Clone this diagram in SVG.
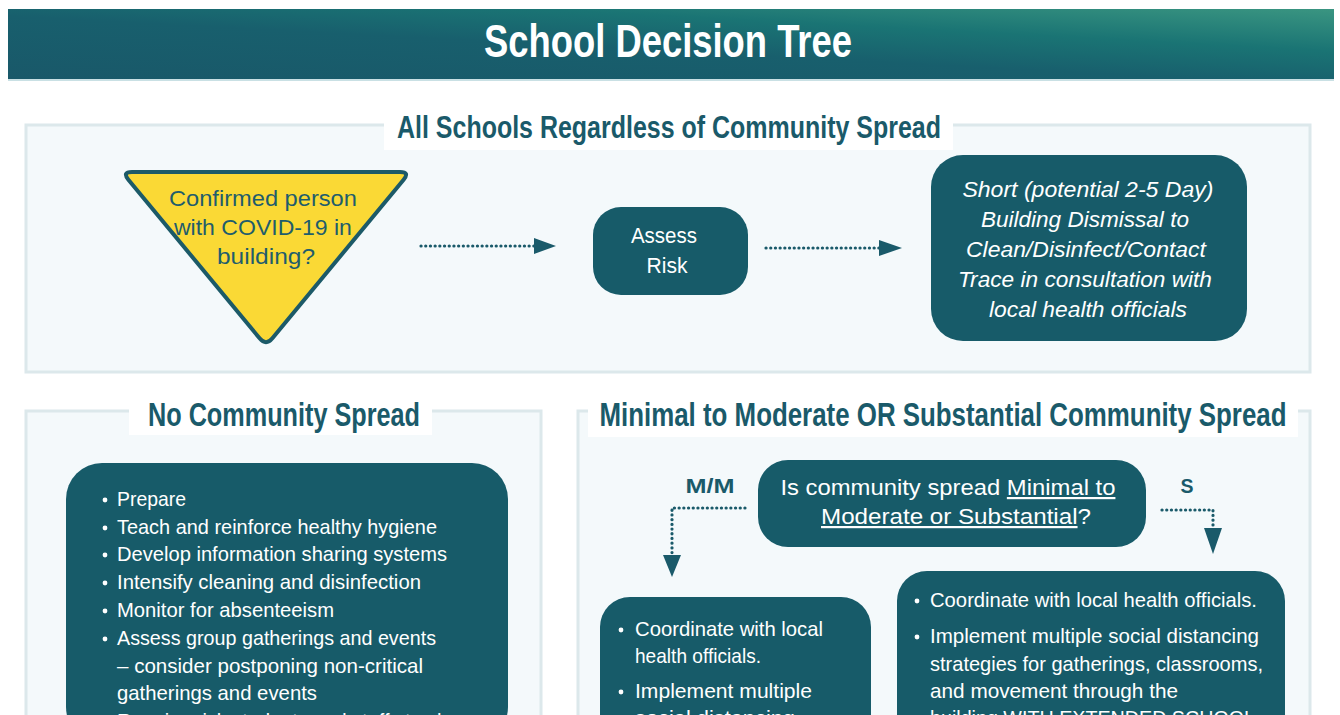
<svg xmlns="http://www.w3.org/2000/svg" width="1340" height="715" viewBox="0 0 1340 715">
  <defs>
    <linearGradient id="hdr" x1="0" y1="1" x2="1" y2="0">
      <stop offset="0" stop-color="#195869"/>
      <stop offset="0.45" stop-color="#185f6d"/>
      <stop offset="0.7" stop-color="#1a7474"/>
      <stop offset="1" stop-color="#3a9581"/>
    </linearGradient>
    <style>
      .panel { fill: #f4f9fb; stroke: #dce8eb; stroke-width: 3; }
      .tag { fill: #ffffff; }
      .ttl { font-family: "Liberation Sans Narrow", "Liberation Sans", Arial, sans-serif; font-weight: bold; fill: #1a5a6a; text-anchor: middle; }
      .box { fill: #175b69; }
      .txt { font-family: "Liberation Sans", Arial, sans-serif; font-size: 21px; fill: #ffffff; }
      .mid { text-anchor: middle; }
      .dark { fill: #1f5d6c; }
      .it { font-style: italic; }
      .dot { fill: none; stroke: #1a5a6a; stroke-width: 3.2; stroke-linecap: round; stroke-dasharray: 0.1 4.6; }
      .head { fill: #1a5a6a; }
      .bul { fill: #ffffff; }
      .u { text-decoration: underline; }
    </style>
  </defs>

  <rect x="0" y="0" width="1340" height="715" fill="#ffffff"/>

  <!-- header band -->
  <g id="header">
    <rect x="8" y="9" width="1326" height="70" fill="url(#hdr)"/>
    <rect x="8" y="79" width="1326" height="2" fill="#c9e0e4"/>
    <text x="668" y="57" class="ttl" style="fill:#ffffff;font-size:46px" textLength="368" lengthAdjust="spacingAndGlyphs">School Decision Tree</text>
  </g>

  <!-- section frames -->
  <g id="section-all">
    <rect x="26" y="125" width="1284" height="247" class="panel"/>
    <rect x="384" y="106" width="569" height="44" class="tag"/>
    <text x="669" y="138" class="ttl" style="font-size:32px" textLength="544" lengthAdjust="spacingAndGlyphs">All Schools Regardless of Community Spread</text>
  </g>
  <g id="section-none">
    <rect x="26" y="411" width="515" height="320" class="panel"/>
    <rect x="129" y="393" width="303" height="42" class="tag"/>
    <text x="284" y="426" class="ttl" style="font-size:33px" textLength="272" lengthAdjust="spacingAndGlyphs">No Community Spread</text>
  </g>
  <g id="section-spread">
    <rect x="578" y="411" width="732" height="320" class="panel"/>
    <rect x="588" y="393" width="710" height="44" class="tag"/>
    <text x="943" y="426" class="ttl" style="font-size:33px" textLength="687" lengthAdjust="spacingAndGlyphs">Minimal to Moderate OR Substantial Community Spread</text>
  </g>

  <!-- decision: confirmed case -->
  <g id="confirmed">
    <path d="M132,172 L400,172 Q410,172 403.6,179.7 L272.4,338.3 Q266,346 259.6,338.3 L128.4,179.7 Q122,172 132,172 Z" fill="#fad935" stroke="#1c5a68" stroke-width="4"/>
    <text class="txt mid dark" style="font-size:22px">
      <tspan x="266" y="206" textLength="188" lengthAdjust="spacingAndGlyphs">Confirmed person</tspan>
      <tspan x="266" y="235" textLength="178" lengthAdjust="spacingAndGlyphs">with COVID-19 in</tspan>
      <tspan x="266" y="264" textLength="98" lengthAdjust="spacingAndGlyphs">building?</tspan>
    </text>
  </g>

  <g id="assess">
    <rect x="593" y="207" width="155" height="88" rx="28" class="box"/>
    <text class="txt mid" style="font-size:22px">
      <tspan x="667" y="243" textLength="66" lengthAdjust="spacingAndGlyphs">Assess</tspan>
      <tspan x="667" y="273" textLength="41" lengthAdjust="spacingAndGlyphs">Risk</tspan>
    </text>
  </g>

  <g id="dismissal">
    <rect x="931" y="155" width="316" height="186" rx="32" class="box"/>
    <text class="txt mid it" style="font-size:22px">
      <tspan x="1091" y="197" textLength="251" lengthAdjust="spacingAndGlyphs">Short (potential 2-5 Day)</tspan>
      <tspan x="1088" y="227" textLength="208" lengthAdjust="spacingAndGlyphs">Building Dismissal to</tspan>
      <tspan x="1089" y="257" textLength="240" lengthAdjust="spacingAndGlyphs">Clean/Disinfect/Contact</tspan>
      <tspan x="1088" y="287" textLength="254" lengthAdjust="spacingAndGlyphs">Trace in consultation with</tspan>
      <tspan x="1088" y="317" textLength="198" lengthAdjust="spacingAndGlyphs">local health officials</tspan>
    </text>
  </g>

  <!-- no community spread actions -->
  <g id="no-spread-actions">
    <rect x="66" y="463" width="442" height="280" rx="36" class="box"/>
    <g class="bul">
      <circle cx="105" cy="500" r="2.4"/>
      <circle cx="105" cy="528" r="2.4"/>
      <circle cx="105" cy="555" r="2.4"/>
      <circle cx="105" cy="583" r="2.4"/>
      <circle cx="105" cy="611" r="2.4"/>
      <circle cx="105" cy="639" r="2.4"/>
      <circle cx="105" cy="722" r="2.4"/>
    </g>
    <text class="txt">
      <tspan x="117" y="506" textLength="69" lengthAdjust="spacingAndGlyphs">Prepare</tspan>
      <tspan x="117" y="534" textLength="320" lengthAdjust="spacingAndGlyphs">Teach and reinforce healthy hygiene</tspan>
      <tspan x="117" y="561" textLength="330" lengthAdjust="spacingAndGlyphs">Develop information sharing systems</tspan>
      <tspan x="117" y="589" textLength="304" lengthAdjust="spacingAndGlyphs">Intensify cleaning and disinfection</tspan>
      <tspan x="117" y="617" textLength="217" lengthAdjust="spacingAndGlyphs">Monitor for absenteeism</tspan>
      <tspan x="117" y="645" textLength="319" lengthAdjust="spacingAndGlyphs">Assess group gatherings and events</tspan>
      <tspan x="117" y="673" textLength="306" lengthAdjust="spacingAndGlyphs">– consider postponing non-critical</tspan>
      <tspan x="117" y="700" textLength="200" lengthAdjust="spacingAndGlyphs">gatherings and events</tspan>
      <tspan x="117" y="728" textLength="370" lengthAdjust="spacingAndGlyphs">Require sick students and staff stay home</tspan>
    </text>
  </g>

  <!-- community spread question -->
  <g id="spread-question">
    <rect x="758" y="460" width="388" height="87" rx="30" class="box"/>
    <text class="txt mid" style="font-size:22px">
      <tspan x="951" y="495" textLength="335" lengthAdjust="spacingAndGlyphs">Is community spread <tspan class="u">Minimal to</tspan></tspan>
      <tspan x="956" y="524" textLength="270" lengthAdjust="spacingAndGlyphs"><tspan class="u">Moderate or Substantial</tspan>?</tspan>
    </text>
  </g>

  <g id="mm-actions">
    <rect x="600" y="597" width="271" height="150" rx="30" class="box"/>
    <g class="bul">
      <circle cx="621" cy="630" r="2.4"/>
      <circle cx="621" cy="692" r="2.4"/>
    </g>
    <text class="txt">
      <tspan x="635" y="636" textLength="188" lengthAdjust="spacingAndGlyphs">Coordinate with local</tspan>
      <tspan x="635" y="663" textLength="126" lengthAdjust="spacingAndGlyphs">health officials.</tspan>
      <tspan x="635" y="698" textLength="177" lengthAdjust="spacingAndGlyphs">Implement multiple</tspan>
      <tspan x="635" y="725" textLength="160" lengthAdjust="spacingAndGlyphs">social distancing</tspan>
    </text>
  </g>

  <g id="s-actions">
    <rect x="897" y="571" width="388" height="176" rx="30" class="box"/>
    <g class="bul">
      <circle cx="917" cy="601" r="2.4"/>
      <circle cx="917" cy="637" r="2.4"/>
    </g>
    <text class="txt">
      <tspan x="930" y="607" textLength="327" lengthAdjust="spacingAndGlyphs">Coordinate with local health officials.</tspan>
      <tspan x="930" y="643" textLength="329" lengthAdjust="spacingAndGlyphs">Implement multiple social distancing</tspan>
      <tspan x="930" y="671" textLength="333" lengthAdjust="spacingAndGlyphs">strategies for gatherings, classrooms,</tspan>
      <tspan x="930" y="698" textLength="248" lengthAdjust="spacingAndGlyphs">and movement through the</tspan>
      <tspan x="930" y="725" textLength="325" lengthAdjust="spacingAndGlyphs">building WITH EXTENDED SCHOOL</tspan>
    </text>
  </g>

  <!-- connectors -->
  <g id="connectors">
    <line x1="421" y1="246" x2="536" y2="246" class="dot"/>
    <polygon points="534,238 556,246 534,254" class="head"/>
    <line x1="766" y1="248" x2="881" y2="248" class="dot"/>
    <polygon points="879,240 902,248 879,256" class="head"/>

    <polyline points="745,508 672,508 672,556" class="dot"/>
    <polygon points="663,555 681,555 672,577" class="head"/>
    <text x="710" y="493" class="ttl" style="font-size:21px" textLength="49" lengthAdjust="spacingAndGlyphs">M/M</text>

    <polyline points="1162,510 1213,510 1213,528" class="dot"/>
    <polygon points="1204,528 1222,528 1213,554" class="head"/>
    <text x="1187" y="493" class="ttl" style="font-size:21px" textLength="13" lengthAdjust="spacingAndGlyphs">S</text>
  </g>
</svg>
